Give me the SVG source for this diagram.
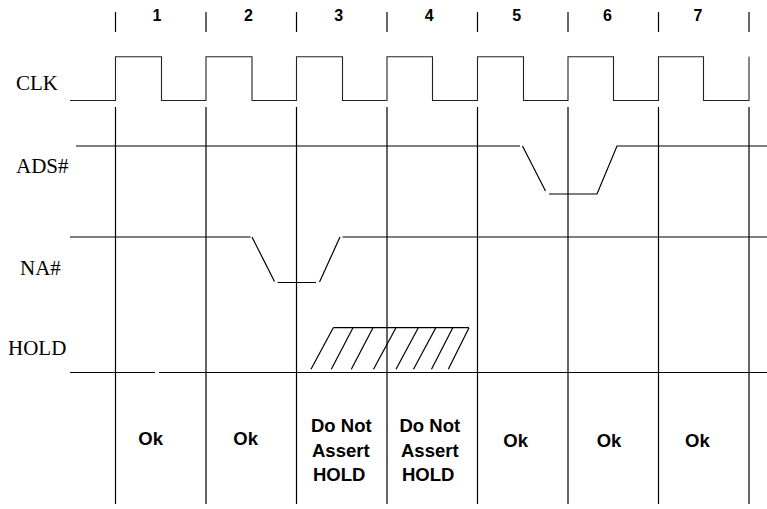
<svg xmlns="http://www.w3.org/2000/svg" width="767" height="509" viewBox="0 0 767 509">
<style>
.ln{stroke:#000;stroke-width:1.2;fill:none}
.ck{stroke:#222;stroke-width:1.1;fill:none}
.lbl{font-family:"Liberation Serif","Times New Roman",serif;font-size:21px;fill:#000}
.num{font-family:"Liberation Sans",Arial,sans-serif;font-size:16px;font-weight:bold;fill:#000;text-anchor:middle}
.st{font-family:"Liberation Sans",Arial,sans-serif;font-size:18.5px;font-weight:bold;fill:#000}
</style>
<rect width="767" height="509" fill="#fff"/>
<g id="grid">
<path class="ln" d="M115.5 12V32M206 12V32M296.5 12V32M387 12V32M477.5 12V32M568 12V32M658.5 12V32M749 12V32"/>
<path class="ln" d="M115.5 107V504M206 107V504M296.5 107V504M387 107V504M477.5 107V504M568 107V504M658.5 107V504M749 107V504"/>
</g>
<g id="cycles">
<text class="num" x="157" y="21">1</text>
<text class="num" x="248.5" y="21">2</text>
<text class="num" x="338.8" y="21">3</text>
<text class="num" x="429.2" y="21">4</text>
<text class="num" x="516.8" y="21">5</text>
<text class="num" x="607.5" y="21">6</text>
<text class="num" x="698" y="21">7</text>
</g>
<g id="clk">
<text class="lbl" x="16" y="90">CLK</text>
<path class="ck" d="M70 100.5H115.5V56.7H161.5V100.5H206V56.7H252V100.5H296.5V56.7H342.5V100.5H387V56.7H432.5V100.5H477.5V56.7H523.5V100.5H568V56.7H613.5V100.5H658.5V56.7H703.5V100.5H749V56.7"/>
</g>
<g id="ads">
<text class="lbl" x="16" y="173">ADS#</text>
<path class="ln" d="M76 146H520M522.5 146L545.5 191M549 194H597L617 146H767"/>
</g>
<g id="na">
<text class="lbl" x="20" y="275">NA#</text>
<path class="ln" d="M70 237H250.5M252 237L274.5 281.5M277.5 282.5H316M319.5 282L340 237M342.5 237H767"/>
</g>
<g id="hold">
<text class="lbl" x="8" y="355">HOLD</text>
<path class="ln" d="M70 372.5H155M159 372.5H767"/>
<path class="ln" d="M333.3 327.7H469M311 369.3L333.3 327.7M331.3 369.3L353 327.7M351.3 369.3L373 327.7M373.5 369.3L396 327.7M396 369.3L418.3 327.7M413.5 369.3L435.8 327.7M431.5 369.3L452.8 327.7M448.3 369.3L469 327.7"/>
</g>
<g id="status">
<text class="st" x="138.3" y="444.5">Ok</text>
<text class="st" x="233.3" y="444.5">Ok</text>
<text class="st" x="311" y="431.7">Do Not</text>
<text class="st" x="312" y="456.5">Assert</text>
<text class="st" x="313" y="481">HOLD</text>
<text class="st" x="399.5" y="431.7">Do Not</text>
<text class="st" x="401" y="456.5">Assert</text>
<text class="st" x="402" y="481">HOLD</text>
<text class="st" x="503.3" y="446.7">Ok</text>
<text class="st" x="596.7" y="446.7">Ok</text>
<text class="st" x="685" y="446.7">Ok</text>
</g>
</svg>
